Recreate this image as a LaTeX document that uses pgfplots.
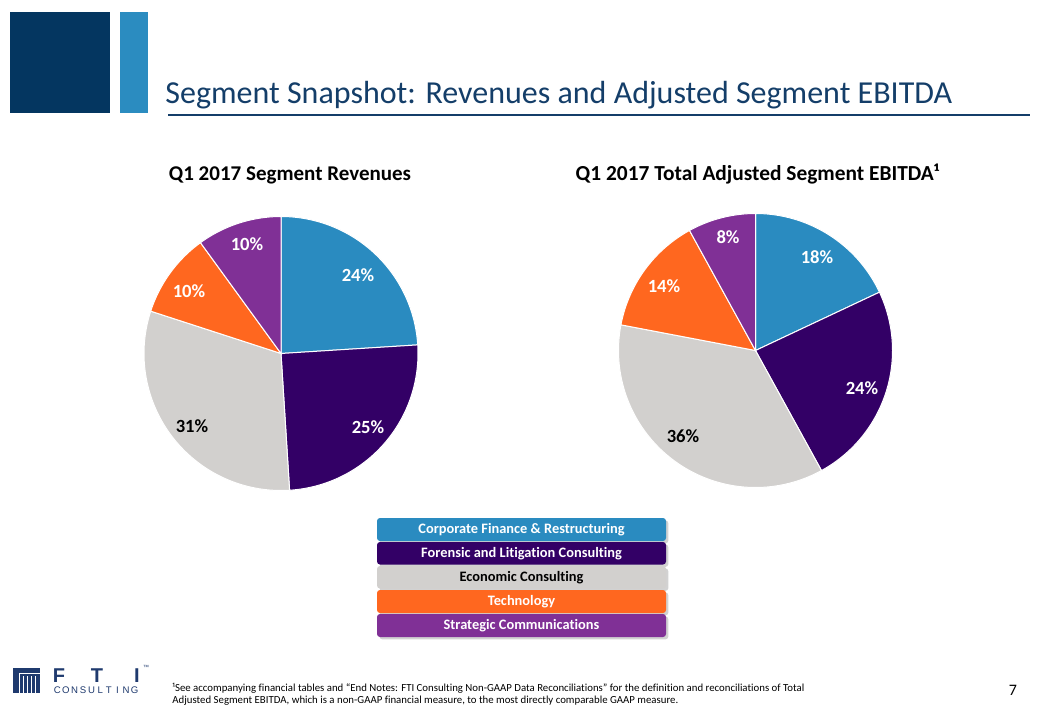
\documentclass[border=0pt]{standalone}
\usepackage{pgfplots}
\pgfplotsset{compat=1.18}
\usepackage{fontspec}
\setmainfont{Carlito}[Ligatures={NoCommon}]
\newfontfamily\logofont{Liberation Sans}
\usetikzlibrary{shadows}
\definecolor{navy}{RGB}{4,54,96}
\definecolor{lblue}{RGB}{43,140,192}
\definecolor{titleblue}{RGB}{20,62,105}
\definecolor{cfr}{RGB}{42,139,192}
\definecolor{flc}{RGB}{51,0,102}
\definecolor{eco}{RGB}{210,208,206}
\definecolor{tech}{RGB}{255,103,31}
\definecolor{scom}{RGB}{128,48,150}
\definecolor{logoblue}{RGB}{31,58,110}
% one pie slice: colour, lower angle, upper angle (degrees; 1% = 3.6 degrees, start at 90, clockwise)
\newcommand{\pieslice}[3]{\addplot[fill=#1,draw=white,line width=0.5pt,data cs=polar,domain=#2:#3,samples=90] ({x},{1}) -- (axis cs:0,0) -- cycle;}
\begin{document}
\begin{tikzpicture}[x=0.5pt,y=0.5pt]
\fill[white] (0,0) rectangle (1040,720);
\path[use as bounding box] (0,0) rectangle (1040,720);
% header
\fill[navy] (10,607) rectangle (110,708);
\fill[lblue] (120,607) rectangle (148,708);
\node[anchor=base west, text=titleblue, font=\fontsize{16}{18}\selectfont, inner sep=0] at (165,617) {Segment Snapshot: Revenues and Adjusted Segment EBITDA};
\draw[titleblue, line width=0.6pt] (168,605) -- (1030,605);
% subtitles
\node[anchor=base, font=\bfseries\fontsize{10.5}{12}\selectfont, inner sep=0] at (290,540) {Q1 2017 Segment Revenues};
\node[anchor=base, font=\bfseries\fontsize{10.7}{12}\selectfont, inner sep=0] at (757.5,540) {Q1 2017 Total Adjusted Segment EBITDA¹};
% pie 1: 24, 25, 31, 10, 10 %
\begin{axis}[at={(140.5pt,183.25pt)}, anchor=center, hide axis, scale only axis, width=137pt, height=137pt, xmin=-1, xmax=1, ymin=-1, ymax=1, clip=false]
\pieslice{cfr}{3.6}{90}
\pieslice{flc}{-86.4}{3.6}
\pieslice{eco}{-198}{-86.4}
\pieslice{tech}{-234}{-198}
\pieslice{scom}{-270}{-234}
\end{axis}
% pie 2: 18, 24, 36, 14, 8 %
\begin{axis}[at={(377.75pt,184.75pt)}, anchor=center, hide axis, scale only axis, width=137pt, height=137pt, xmin=-1, xmax=1, ymin=-1, ymax=1, clip=false]
\pieslice{cfr}{25.2}{90}
\pieslice{flc}{-61.2}{25.2}
\pieslice{eco}{-190.8}{-61.2}
\pieslice{tech}{-241.2}{-190.8}
\pieslice{scom}{-270}{-241.2}
\end{axis}
% slice labels
\tikzset{pl/.style={font=\bfseries\fontsize{9.3}{10}\selectfont, inner sep=0}}
\node[pl, text=white] at (358,445) {24\%};
\node[pl, text=white] at (368,293) {25\%};
\node[pl, text=black] at (192,294) {31\%};
\node[pl, text=white] at (189,429) {10\%};
\node[pl, text=white] at (247,476) {10\%};
\node[pl, text=white] at (817,463) {18\%};
\node[pl, text=white] at (862,332) {24\%};
\node[pl, text=black] at (683,284) {36\%};
\node[pl, text=white] at (664,434) {14\%};
\node[pl, text=white] at (728,483) {8\%};
% legend boxes
\tikzset{lb/.style={rounded corners=1.5pt, drop shadow={opacity=0.35, shadow xshift=1.2pt, shadow yshift=-1.2pt}}}
\tikzset{lt/.style={font=\bfseries\fontsize{7.2}{8}\selectfont, inner sep=0}}
\path[lb, fill=cfr] (377,179) rectangle (666,202);
\node[lt, text=white] at (521.5,190.5) {Corporate Finance \& Restructuring};
\path[lb, fill=flc] (377,155.5) rectangle (666,178);
\node[lt, text=white] at (521.5,166.5) {Forensic and Litigation Consulting};
\path[lb, fill=eco] (377,131.5) rectangle (666,154);
\node[lt, text=black] at (521.5,142.5) {Economic Consulting};
\path[lb, fill=tech] (377,107) rectangle (666,130);
\node[lt, text=white] at (521.5,118.5) {Technology};
\path[lb, fill=scom] (377,83) rectangle (666,106);
\node[lt, text=white] at (521.5,94.5) {Strategic Communications};
% footnote
\node[anchor=base west, font=\fontsize{5.4}{6}\selectfont, inner sep=0] at (172,29) {¹See accompanying financial tables and “End Notes: FTI Consulting Non-GAAP Data Reconciliations” for the definition and reconciliations of Total};
\node[anchor=base west, font=\fontsize{5.4}{6}\selectfont, inner sep=0] at (172,17) {Adjusted Segment EBITDA, which is a non-GAAP financial measure, to the most directly comparable GAAP measure.};
\node[font=\fontsize{8}{9}\selectfont, inner sep=0] at (1013,30) {7};
% logo
\fill[logoblue] (13,27) rectangle (40,52);
\draw[white, line width=0.5pt] (19,47) -- (40,47);
\draw[white, line width=0.5pt] (19,27) -- (19,47);
\foreach \xx in {23,27,31,35} \draw[white, line width=0.45pt] (\xx,27) -- (\xx,44);
\node[anchor=base, font=\logofont\bfseries\fontsize{10}{10}\selectfont, text=logoblue, inner sep=0] at (59,38) {F};
\node[anchor=base, font=\logofont\bfseries\fontsize{10}{10}\selectfont, text=logoblue, inner sep=0] at (97,38) {T};
\node[anchor=base, font=\logofont\bfseries\fontsize{10}{10}\selectfont, text=logoblue, inner sep=0] at (137,38) {I};
\foreach \l [count=\i] in {C,O,N,S,U,L,T,I,N,G}
  \node[anchor=base, font=\logofont\fontsize{4.8}{5}\selectfont, text=logoblue, inner sep=0] at ({53+(\i-0.5)*8.6},27) {\l};
\node[font=\logofont\fontsize{3}{3}\selectfont, text=logoblue, inner sep=0] at (146,53) {™};
\end{tikzpicture}
\end{document}
